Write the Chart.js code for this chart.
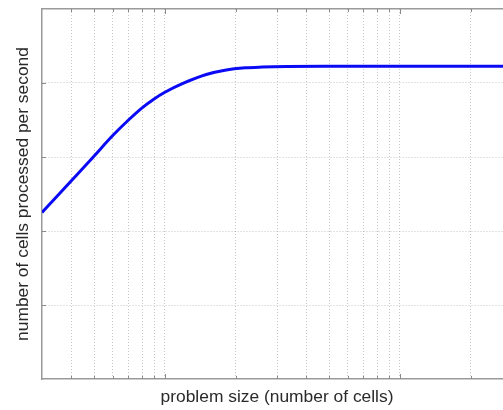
<!DOCTYPE html>
<html><head><meta charset="utf-8">
<script src="https://cdn.jsdelivr.net/npm/chart.js@4/dist/chart.umd.min.js"></script>
<style>
html,body{margin:0;padding:0;overflow:hidden;background:#fff;width:503px;height:410px;}
#wrap{width:512px;height:410px;}
</style></head><body>
<div id="wrap"><canvas id="c" width="512" height="410"></canvas></div>
<script>
const problemSize = [30, 35, 40, 45, 50, 60, 70, 80, 90, 100, 120, 150, 180, 220, 260, 330, 500, 1000, 3000];
const cellsPerSecond = [2.25, 2.48, 2.68, 2.855, 3.014, 3.29, 3.50, 3.665, 3.785, 3.875, 3.998, 4.115, 4.172, 4.205, 4.215, 4.222, 4.225, 4.225, 4.225];
const xGridValues = [40, 50, 60, 70, 80, 90, 100, 200, 300, 400, 500, 600, 700, 800, 900, 1000, 2000];
const xMajorValues = [100, 1000];
const yGridValues = [1, 2, 3, 4];
const xTitle = 'problem size (number of cells)';
const yTitle = 'number of cells processed per second';

const innerTicks = {
  id: 'innerTicks',
  afterDatasetsDraw(chart) {
    const {ctx, chartArea: a, scales: {x, y}} = chart;
    ctx.save();
    ctx.strokeStyle = '#8a8a8a';
    ctx.lineWidth = 1;
    ctx.beginPath();
    xGridValues.forEach(v => {
      const px = Math.round(x.getPixelForValue(v)) + 0.5;
      const len = xMajorValues.includes(v) ? 5 : 3;
      ctx.moveTo(px, a.bottom); ctx.lineTo(px, a.bottom - len);
      ctx.moveTo(px, a.top); ctx.lineTo(px, a.top + len);
    });
    yGridValues.forEach(v => {
      const py = Math.round(y.getPixelForValue(v)) + 0.5;
      ctx.moveTo(a.left, py); ctx.lineTo(a.left + 4, py);
    });
    ctx.stroke();
    ctx.restore();
  }
};

const gridStyle = {color: 'rgba(0,0,0,0.22)', lineWidth: 1, drawTicks: false};
const borderStyle = {display: true, color: '#9a9a9a', width: 1.5, dash: [1, 2]};
const titleFont = {family: 'Liberation Sans, Arial, sans-serif', size: 17.4};

new Chart(document.getElementById('c'), {
  type: 'line',
  data: {
    datasets: [{
      data: problemSize.map((v, i) => ({x: v, y: cellsPerSecond[i]})),
      borderColor: '#0a0af5',
      borderWidth: 3,
      pointRadius: 0,
      cubicInterpolationMode: 'monotone',
      fill: false
    }]
  },
  options: {
    responsive: false,
    animation: false,
    devicePixelRatio: 1,
    layout: {padding: 0},
    plugins: {legend: {display: false}, tooltip: {enabled: false}},
    scales: {
      x: {
        type: 'logarithmic',
        min: 30, max: 3000,
        position: 'bottom',
        afterBuildTicks(s) { s.ticks = xGridValues.map(v => ({value: v})); },
        afterFit(s) { s.height = 31; },
        ticks: {display: false},
        grid: gridStyle,
        border: borderStyle,
        title: {display: true, text: xTitle, color: '#2a2a2a', font: titleFont,
          padding: {top: 0, bottom: 2}}
      },
      x2: {
        type: 'logarithmic',
        min: 30, max: 3000,
        position: 'top',
        afterBuildTicks(s) { s.ticks = []; },
        afterFit(s) { s.height = 9; },
        ticks: {display: false},
        grid: {display: false},
        border: {display: true, color: '#9a9a9a', width: 1.5}
      },
      y: {
        type: 'linear',
        min: 0, max: 5,
        afterBuildTicks(s) { s.ticks = yGridValues.map(v => ({value: v})); },
        afterFit(s) { s.width = 42; },
        ticks: {display: false},
        grid: gridStyle,
        border: borderStyle,
        title: {display: true, text: yTitle, color: '#2a2a2a', font: titleFont,
          padding: {top: 13, bottom: 0}}
      }
    }
  },
  plugins: [innerTicks]
});
</script>
</body></html>
